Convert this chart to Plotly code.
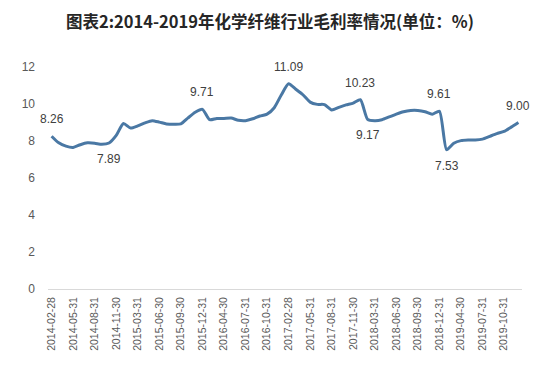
import plotly.graph_objects as go

dates = [
    "2014-02-28", "2014-03-31", "2014-04-30", "2014-05-31", "2014-06-30", "2014-07-31",
    "2014-08-31", "2014-09-30", "2014-10-31", "2014-11-30", "2014-12-31",
    "2015-02-28", "2015-03-31", "2015-04-30", "2015-05-31", "2015-06-30", "2015-07-31",
    "2015-08-31", "2015-09-30", "2015-10-31", "2015-11-30", "2015-12-31",
    "2016-02-29", "2016-03-31", "2016-04-30", "2016-05-31", "2016-06-30", "2016-07-31",
    "2016-08-31", "2016-09-30", "2016-10-31", "2016-11-30", "2016-12-31",
    "2017-02-28", "2017-03-31", "2017-04-30", "2017-05-31", "2017-06-30", "2017-07-31",
    "2017-08-31", "2017-09-30", "2017-10-31", "2017-11-30", "2017-12-31",
    "2018-02-28", "2018-03-31", "2018-04-30", "2018-05-31", "2018-06-30", "2018-07-31",
    "2018-08-31", "2018-09-30", "2018-10-31", "2018-11-30", "2018-12-31",
    "2019-02-28", "2019-03-31", "2019-04-30", "2019-05-31", "2019-06-30", "2019-07-31",
    "2019-08-31", "2019-09-30", "2019-10-31", "2019-11-30", "2019-12-31",
]

margin_rate = [
    8.26, 7.90, 7.72, 7.65, 7.80, 7.90, 7.88, 7.82, 7.89, 8.30, 8.95,
    8.70, 8.82, 8.98, 9.10, 9.02, 8.92, 8.90, 8.92, 9.25, 9.55, 9.71,
    9.15, 9.22, 9.22, 9.24, 9.12, 9.10, 9.20, 9.35, 9.45, 9.80, 10.50,
    11.09, 10.80, 10.50, 10.10, 9.98, 9.97, 9.68, 9.82, 9.95, 10.05, 10.23,
    9.17, 9.10, 9.15, 9.30, 9.45, 9.58, 9.65, 9.65, 9.58, 9.45, 9.61,
    7.53, 7.88, 8.02, 8.05, 8.05, 8.10, 8.25, 8.40, 8.52, 8.75, 9.00,
]

tick_labels = [
    "2014-02-28", "2014-05-31", "2014-08-31", "2014-11-30", "2015-03-31", "2015-06-30",
    "2015-09-30", "2015-12-31", "2016-04-30", "2016-07-31", "2016-10-31", "2017-02-28",
    "2017-05-31", "2017-08-31", "2017-11-30", "2018-03-31", "2018-06-30", "2018-09-30",
    "2018-12-31", "2019-04-30", "2019-07-31", "2019-10-31",
]

# labelled points: (date, position above(+1)/below(-1))
labelled = [
    ("2014-02-28", 1), ("2014-10-31", -1), ("2015-12-31", 1), ("2017-02-28", 1),
    ("2017-12-31", 1), ("2018-02-28", -1), ("2018-12-31", 1), ("2019-02-28", -1),
    ("2019-12-31", 1),
]

y_ticks = [0, 2, 4, 6, 8, 10, 12]

fig = go.Figure()
fig.add_trace(go.Scatter(
    x=dates, y=margin_rate, mode="lines",
    line=dict(color="#4a78a4", width=3, shape="spline", smoothing=0.6),
    hoverinfo="x+y", showlegend=False,
))

for d, pos in labelled:
    v = margin_rate[dates.index(d)]
    fig.add_annotation(
        x=d, y=v, text=f"{v:.2f}", showarrow=False,
        yshift=17 if pos > 0 else -16,
        font=dict(family="Liberation Sans, Arial, sans-serif", size=12, color="#404040"),
    )

fig.update_layout(
    width=539, height=371,
    margin=dict(l=40, r=25, t=59, b=90),
    paper_bgcolor="white", plot_bgcolor="white",
    title=dict(
        text="<b>图表2:2014-2019年化学纤维行业毛利率情况(单位：%)</b>",
        x=0.486, xanchor="center", y=0.962, yanchor="middle",
        font=dict(family="Noto Sans CJK SC, sans-serif", size=16.5, color="#262626"),
    ),
    xaxis=dict(
        type="category", categoryorder="array", categoryarray=dates,
        range=[-0.5, len(dates) - 0.5],
        tickmode="array", tickvals=tick_labels, ticktext=tick_labels,
        tickangle=-90, showgrid=False, zeroline=False,
        showline=False, ticks="", ticklabelstandoff=5,
        tickfont=dict(family="Liberation Sans, Arial, sans-serif", size=10.5, color="#595959"),
    ),
    yaxis=dict(
        range=[0, 12], tickvals=y_ticks, showgrid=False, zeroline=True,
        zerolinecolor="#d9d9d9", zerolinewidth=1,
        showline=False, ticks="", ticklabelstandoff=12,
        tickfont=dict(family="Liberation Sans, Arial, sans-serif", size=12, color="#595959"),
    ),
)

fig.write_html("out.html")
